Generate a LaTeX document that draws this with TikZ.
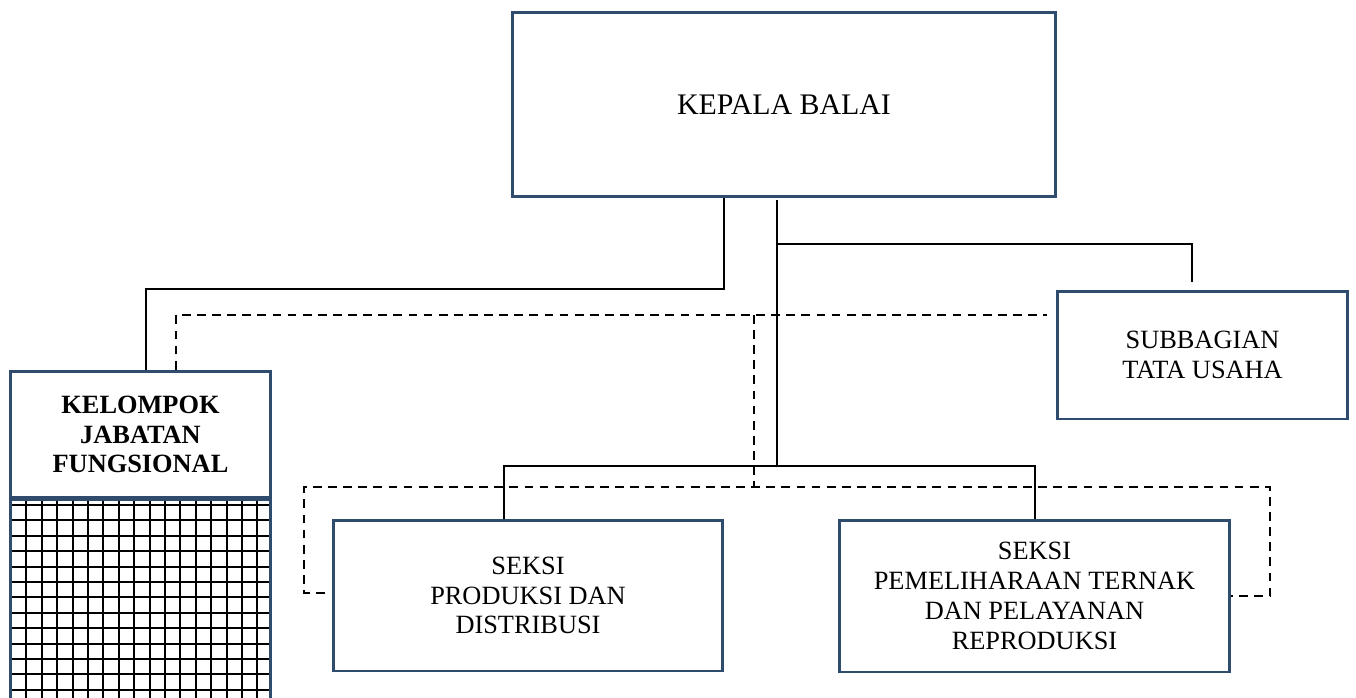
\documentclass[tikz,border=0pt]{standalone}
\usepackage{fontspec}
\setmainfont{Liberation Serif}
\definecolor{boxblue}{RGB}{47,76,110}

\begin{document}
\begin{tikzpicture}[x=0.02cm,y=-0.02cm,
  box/.style={draw=boxblue,line width=1.7pt,align=center,inner sep=0pt,
    font=\fontsize{15}{17}\selectfont},
  conn/.style={line width=1.1pt},
  dashconn/.style={line width=1.1pt,dash pattern=on 5pt off 3.6pt},
  gridline/.style={line width=1.2pt}]
\useasboundingbox (0,0) rectangle (1356,697);
\clip (0,0) rectangle (1356,697);

% grid under the functional group
\foreach \i in {1,...,16}
  \draw[gridline] (11+15.4*\i,498) -- (11+15.4*\i,705);
\foreach \j in {0,...,12}
  \draw[gridline] (10,505+15.4*\j) -- (271,505+15.4*\j);

% boxes
\node[box,minimum width=10.88cm,minimum height=3.7cm,
  font=\fontsize{17}{20}\selectfont] (kepala) at (784,104.5) {KEPALA BALAI};
\node[box,minimum width=5.82cm,minimum height=2.56cm] (subbag) at (1202.5,355)
  {SUBBAGIAN\\TATA USAHA};
\node[box,minimum width=5.22cm,minimum height=2.54cm,
  font=\fontsize{15}{17}\selectfont\bfseries] (kjf) at (140.5,434.5)
  {KELOMPOK\\JABATAN\\FUNGSIONAL};
\node[box,minimum width=5.22cm,minimum height=4.3cm] (kjfgrid) at (140.5,605) {};
\draw[draw=boxblue,line width=2.2pt] (kjf.south west) -- (kjf.south east);
\node[box,minimum width=7.8cm,minimum height=3.02cm] (produksi) at (528,595.5)
  {SEKSI\\PRODUKSI DAN\\DISTRIBUSI};
\node[box,minimum width=7.82cm,minimum height=3.04cm] (ternak) at (1034.5,596)
  {SEKSI\\PEMELIHARAAN TERNAK\\DAN PELAYANAN\\REPRODUKSI};

% solid lines
\coordinate (jl) at (724,289);
\coordinate (kl) at (146,289);
\draw[conn] (kepala.south -| jl) |- (kl) -- (kl |- kjf.north);
\coordinate (trunk) at (777,466);
\coordinate (ttop) at (777,200);
\draw[conn] (ttop) -- (trunk);
\coordinate (tb) at (777,244);
\coordinate (tr) at (1192,282);
\draw[conn] (tb) -| (tr);
\coordinate (bl) at (504,466);
\coordinate (br) at (1035,466);
\draw[conn] (bl |- produksi.north) -- (bl) -- (br) -- (br |- ternak.north);

% dashed lines
\coordinate (d1) at (176,315);
\coordinate (d2) at (1047,315);
\coordinate (d3) at (754,487);
\draw[dashconn] (d1 |- kjf.north) -- (d1) -- (d2);
\draw[dashconn] (d1 -| d3) -- (d3);
\coordinate (e0) at (325,593);
\coordinate (e1) at (304,487);
\coordinate (e2) at (1270,487);
\draw[dashconn] (e0) -| (e1) -- (e2) |- (ternak.east);
\end{tikzpicture}
\end{document}
